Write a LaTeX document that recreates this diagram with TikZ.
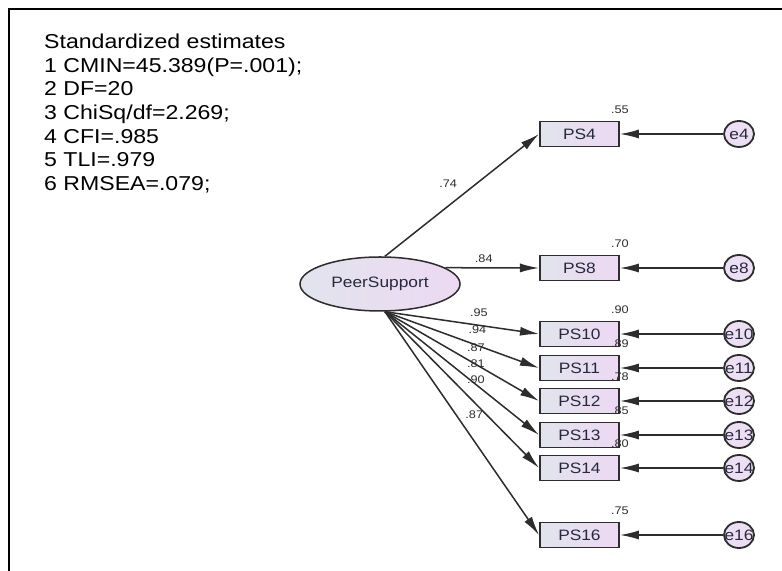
\documentclass[tikz,border=0pt]{standalone}
\usepackage{fontspec}
\setmainfont{Liberation Sans}[FakeStretch=1.15]
\usepackage{xcolor}
\usepackage{tikz}
\usetikzlibrary{positioning, arrows.meta, shapes.geometric}
\definecolor{boxleft}{RGB}{225,228,237}
\definecolor{boxright}{RGB}{237,217,243}
\definecolor{errfill}{RGB}{237,223,243}
\definecolor{edgegray}{RGB}{45,45,45}
\definecolor{inkblue}{RGB}{40,40,60}

\begin{document}
\begin{tikzpicture}[
  obs/.style={rectangle, draw=edgegray, line width=1.8pt,
              left color=boxleft, right color=boxright,
              minimum width=2.765cm, minimum height=0.875cm, inner sep=0pt,
              text=inkblue, font=\fontsize{15}{18}\selectfont},
  latent/.style={ellipse, draw=edgegray, line width=1.5pt,
                 left color=boxleft, right color=boxright,
                 minimum width=5.6cm, minimum height=1.89cm, inner sep=0pt,
                 text=inkblue, font=\fontsize{15}{18}\selectfont},
  err/.style={ellipse, draw=edgegray, line width=1.8pt, fill=errfill,
              minimum width=1.05cm, minimum height=0.91cm, inner sep=0pt,
              text=inkblue, font=\fontsize{15}{18}\selectfont},
  arr/.style={-{Latex[length=19pt,width=9pt]}, line width=1.5pt, draw=edgegray},
  lbl/.style={font=\fontsize{11}{12}\selectfont, text=edgegray, inner sep=1pt},
  rsq/.style={lbl, anchor=south, yshift=6pt}
]
\useasboundingbox (0,0) rectangle (27.37,19.985);

% frame
\draw[line width=1.6pt] (0.315,0) |- (27.37,19.67);

% fit indices
\node[anchor=north west, align=left, inner sep=0pt,
      font=\fontsize{20}{23.5}\selectfont] (stats) at (1.54,18.795)
  {Standardized estimates\\1 CMIN=45.389(P=.001);\\2 DF=20\\3 ChiSq/df=2.269;\\4 CFI=.985\\5 TLI=.979\\6 RMSEA=.079;};

\node[latent] (ps) at (13.3,10.045) {PeerSupport};

\node[obs, label={[rsq]north east:.55}] (ps4)  at (20.28,15.295) {PS4};
\node[obs, label={[rsq]north east:.70}] (ps8)  at (20.28,10.605) {PS8};
\node[obs, label={[rsq]north east:.90}] (ps10) at (20.28, 8.295) {PS10};
\node[obs, label={[rsq]north east:.89}] (ps11) at (20.28, 7.105) {PS11};
\node[obs, label={[rsq]north east:.78}] (ps12) at (20.28, 5.95)  {PS12};
\node[obs, label={[rsq]north east:.85}] (ps13) at (20.28, 4.76)  {PS13};
\node[obs, label={[rsq]north east:.80}] (ps14) at (20.28, 3.605) {PS14};
\node[obs, label={[rsq]north east:.75}] (ps16) at (20.28, 1.26)  {PS16};

\node[err] (e4)  at (25.865,15.295) {\makebox[0pt]{e4}};
\node[err] (e8)  at (25.865,10.605) {\makebox[0pt]{e8}};
\node[err] (e10) at (25.865, 8.295) {\makebox[0pt]{e10}};
\node[err] (e11) at (25.865, 7.105) {\makebox[0pt]{e11}};
\node[err] (e12) at (25.865, 5.95)  {\makebox[0pt]{e12}};
\node[err] (e13) at (25.865, 4.76)  {\makebox[0pt]{e13}};
\node[err] (e14) at (25.865, 3.605) {\makebox[0pt]{e14}};
\node[err] (e16) at (25.865, 1.26)  {\makebox[0pt]{e16}};

% loadings
\draw[arr] (ps.80)  -- node[lbl, pos=0.41, yshift=22pt]{.74} (ps4.west);
\draw[arr] (ps.14)  -- node[lbl, pos=0.41, yshift=9pt]{.84} (ps8.west);
\draw[arr] (ps.-80) -- node[lbl, pos=0.61, yshift=13pt]{.95} (ps10.west);
\draw[arr] (ps.-80) -- node[lbl, pos=0.60, yshift=16pt]{.94} (ps11.west);
\draw[arr] (ps.-80) -- node[lbl, pos=0.59, yshift=17pt]{.87} (ps12.west);
\draw[arr] (ps.-80) -- node[lbl, pos=0.59, yshift=21pt]{.81} (ps13.west);
\draw[arr] (ps.-80) -- node[lbl, pos=0.59, yshift=24pt]{.90} (ps14.west);
\draw[arr] (ps.-80) -- node[lbl, pos=0.58, yshift=26pt]{.87} (ps16.west);

% errors
\draw[arr] (e4)  -- (ps4);
\draw[arr] (e8)  -- (ps8);
\draw[arr] (e10) -- (ps10);
\draw[arr] (e11) -- (ps11);
\draw[arr] (e12) -- (ps12);
\draw[arr] (e13) -- (ps13);
\draw[arr] (e14) -- (ps14);
\draw[arr] (e16) -- (ps16);

\end{tikzpicture}
\end{document}
